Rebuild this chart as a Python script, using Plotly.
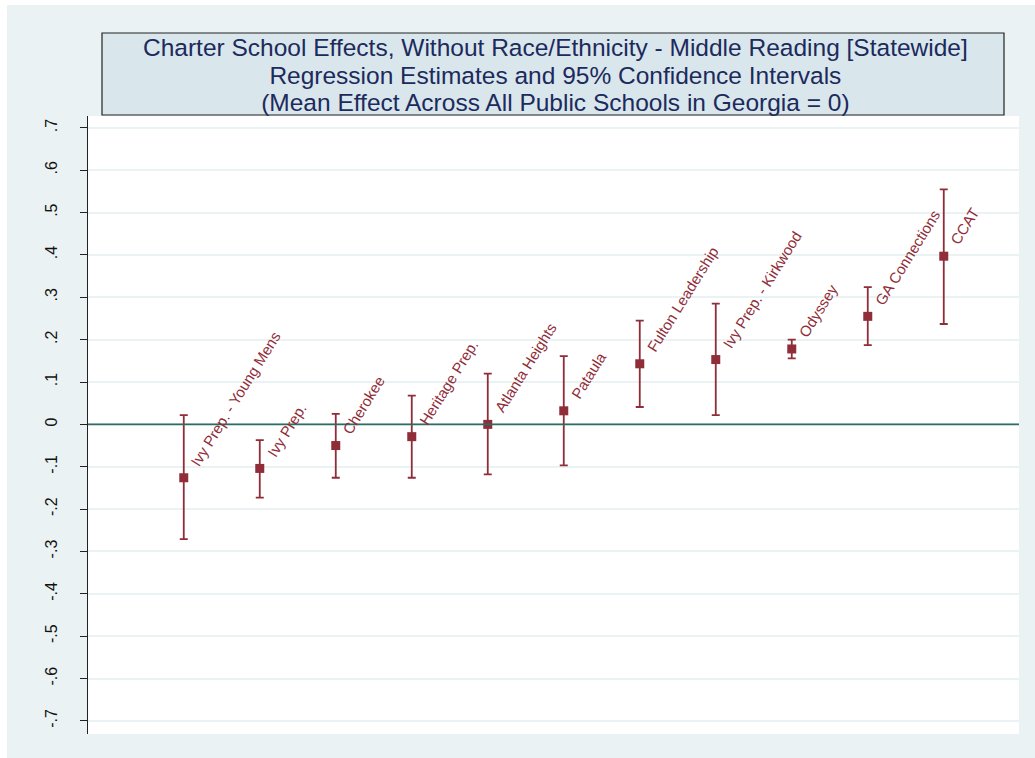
import plotly.graph_objects as go

schools = ["Ivy Prep. - Young Mens", "Ivy Prep.", "Cherokee", "Heritage Prep.",
           "Atlanta Heights", "Pataula", "Fulton Leadership", "Ivy Prep. - Kirkwood",
           "Odyssey", "GA Connections", "CCAT"]
positions = [1, 2, 3, 4, 5, 6, 7, 8, 9, 10, 11]
estimates = [-0.126, -0.104, -0.050, -0.029, 0.000, 0.032, 0.143, 0.153, 0.178, 0.255, 0.397]
upper_ci = [0.022, -0.037, 0.025, 0.068, 0.120, 0.161, 0.245, 0.285, 0.200, 0.324, 0.555]
lower_ci = [-0.271, -0.173, -0.126, -0.126, -0.118, -0.097, 0.041, 0.022, 0.156, 0.187, 0.237]
ytick_vals = [-0.7, -0.6, -0.5, -0.4, -0.3, -0.2, -0.1, 0, 0.1, 0.2, 0.3, 0.4, 0.5, 0.6, 0.7]
ytick_text = ["-.7", "-.6", "-.5", "-.4", "-.3", "-.2", "-.1", "0", ".1", ".2", ".3", ".4", ".5", ".6", ".7"]

title_lines = ["Charter School Effects, Without Race/Ethnicity - Middle Reading [Statewide]",
               "Regression Estimates and 95% Confidence Intervals",
               "(Mean Effect Across All Public Schools in Georgia = 0)"]

RED = "#8f2d38"
W, H = 1035, 758
L, R, T, B = 88, 1019, 116, 734
pw, ph = R - L, B - T


def px(x):
    return (x - L) / pw


def py(y):
    return (B - y) / ph


err_plus = [u - e for u, e in zip(upper_ci, estimates)]
err_minus = [e - l for e, l in zip(estimates, lower_ci)]

fig = go.Figure()
fig.add_trace(go.Scatter(
    x=positions, y=estimates, mode="markers",
    marker=dict(symbol="square", size=9, color=RED),
    error_y=dict(type="data", symmetric=False, array=err_plus, arrayminus=err_minus,
                 color=RED, thickness=1.8, width=4),
    showlegend=False, hoverinfo="skip"))

for xv, yv, name in zip(positions, estimates, schools):
    fig.add_annotation(x=xv, y=yv, text=name, showarrow=False, textangle=-58,
                       xanchor="left", yanchor="bottom", xshift=1, yshift=6,
                       font=dict(family="Liberation Sans, Arial", size=15, color=RED))

shapes = [
    dict(type="rect", xref="paper", yref="paper", x0=px(7), x1=px(W), y0=py(H), y1=py(5),
         fillcolor="#eaf2f3", line=dict(width=0), layer="below"),
    dict(type="rect", xref="paper", yref="paper", x0=0, x1=1, y0=0, y1=1,
         fillcolor="white", line=dict(width=0), layer="below"),
    dict(type="rect", xref="paper", yref="paper", x0=px(102), x1=px(1004), y0=py(115), y1=py(33),
         fillcolor="#d9e6ec", line=dict(width=1.2, color="#222222"), layer="above"),
    dict(type="line", xref="paper", yref="y", x0=0, x1=1, y0=0, y1=0,
         line=dict(color="#2e6b63", width=1.6), layer="above"),
]

title_html = "<br>".join('<span style="font-size:24.5px">%s</span>' % t for t in title_lines)
fig.add_annotation(xref="paper", yref="paper", x=px(555), y=py(75), showarrow=False,
                   text=title_html, align="center", xanchor="center", yanchor="middle",
                   font=dict(family="Liberation Sans, Arial", size=21.2, color="#1c2a5c"))

fig.update_layout(
    width=W, height=H,
    margin=dict(l=L, r=W - R, t=T, b=H - B, pad=0),
    paper_bgcolor="white", plot_bgcolor="rgba(0,0,0,0)",
    shapes=shapes,
    xaxis=dict(range=[-0.26, 11.99], showgrid=False, zeroline=False, showticklabels=False,
               ticks="", showline=False),
    yaxis=dict(range=[-0.731, 0.728], tickvals=ytick_vals, ticktext=ytick_text,
               tickangle=-90, ticks="outside", ticklen=7, tickwidth=1.2, tickcolor="#222222",
               ticklabelstandoff=17,
               showline=True, linecolor="#222222", linewidth=1.2,
               showgrid=True, gridcolor="#eaf2f3", gridwidth=1.5, zeroline=False,
               tickfont=dict(family="Liberation Sans, Arial", size=16, color="#111111")),
)

fig.write_html("out.html", config={"displayModeBar": False},
               post_script="document.body.style.margin='0px';")
